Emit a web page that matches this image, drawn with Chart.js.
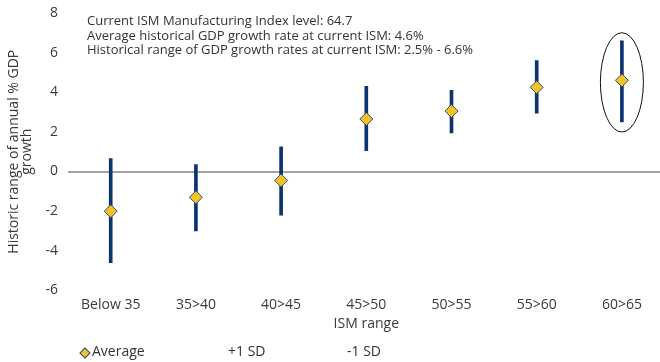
<!DOCTYPE html>
<html>
<head>
<meta charset="utf-8">
<script src="https://cdn.jsdelivr.net/npm/chart.js@4.4.1/dist/chart.umd.min.js"></script>
<style>
  html, body { margin: 0; padding: 0; background: #fff; overflow: hidden; }
  #wrap { position: relative; width: 660px; height: 362px; overflow: hidden; }
  #chart { position: absolute; left: 0; top: 0; width: 672px; height: 362px; }
  .note { position: absolute; left: 87px; top: 13px; font: 13px "Open Sans", sans-serif; color: #333; line-height: 14.5px; white-space: nowrap; }
  .legend { position: absolute; top: 341px; left: 0; font: 14px "Open Sans", sans-serif; color: #333; }
  .legend span { position: absolute; white-space: nowrap; }
  .diamond { width: 6px; height: 6px; background: #f5c125; border: 1px solid #2a4f86; transform: rotate(45deg); display: inline-block; }
</style>
</head>
<body>
<div id="wrap">
  <canvas id="chart" width="672" height="362"></canvas>
  <div class="note">Current ISM Manufacturing Index level: 64.7<br>Average historical GDP growth rate at current ISM: 4.6%<br>Historical range of GDP growth rates at current ISM: 2.5% - 6.6%</div>
  <div class="legend">
    <span style="left:81px;top:1px"><i class="diamond"></i></span>
    <span style="left:92px">Average</span>
    <span style="left:228px">+1 SD</span>
    <span style="left:347px">-1 SD</span>
  </div>
</div>
<script>
// ISM manufacturing ranges and the GDP growth seen in each
const categories = ['Below 35', '35>40', '40>45', '45>50', '50>55', '55>60', '60>65'];
const average = [-2.0, -1.3, -0.45, 2.65, 3.05, 4.25, 4.6];
const plusOneSD = [0.65, 0.35, 1.25, 4.3, 4.1, 5.6, 6.6];
const minusOneSD = [-4.6, -3.0, -2.2, 1.05, 1.95, 2.95, 2.5];
const yTicks = [-6, -4, -2, 0, 2, 4, 6, 8];
const highlightIndex = 6; // current ISM range

const navy = '#0b336f';
const gold = '#f5c125';
const textColor = '#3a3a3a';
const font = { family: 'Open Sans', size: 14 };

// Ellipse around the current ISM range
const highlightPlugin = {
  id: 'highlight',
  afterDatasetsDraw(chart) {
    const { ctx, scales: { x, y } } = chart;
    const cx = x.getPixelForValue(highlightIndex);
    const top = y.getPixelForValue(plusOneSD[highlightIndex]) - 8;
    const bottom = y.getPixelForValue(minusOneSD[highlightIndex]) + 10;
    ctx.save();
    ctx.beginPath();
    ctx.ellipse(cx, (top + bottom) / 2, 21.5, (bottom - top) / 2, 0, 0, Math.PI * 2);
    ctx.strokeStyle = '#111';
    ctx.lineWidth = 1;
    ctx.stroke();
    ctx.restore();
  }
};

new Chart(document.getElementById('chart'), {
  data: {
    labels: categories,
    datasets: [
      {
        type: 'line',
        label: 'Average',
        data: average,
        showLine: false,
        pointStyle: 'rectRot',
        pointRadius: 6.5,
        pointBackgroundColor: gold,
        pointBorderColor: '#2a4f86',
        pointBorderWidth: 1,
        order: 0
      },
      {
        type: 'bar',
        label: 'range',
        data: minusOneSD.map((lo, i) => [lo, plusOneSD[i]]),
        backgroundColor: navy,
        barThickness: 3,
        order: 2
      },
      {
        type: 'line',
        label: '+1 SD',
        data: plusOneSD,
        showLine: false,
        pointRadius: 0,
        order: 1
      },
      {
        type: 'line',
        label: '-1 SD',
        data: minusOneSD,
        showLine: false,
        pointRadius: 0,
        order: 1
      }
    ]
  },
  options: {
    responsive: false,
    animation: false,
    layout: { padding: { top: 13, bottom: 30, left: 7, right: 2 } },
    plugins: {
      legend: { display: false },
      tooltip: { enabled: false }
    },
    scales: {
      x: {
        offset: true,
        afterFit(scale) { scale.paddingLeft = 0; scale.paddingRight = 0; },
        grid: { display: false, drawTicks: false },
        border: { display: false },
        ticks: { color: textColor, font, padding: 6, maxRotation: 0 },
        title: { display: true, text: 'ISM range', color: textColor, font, padding: { top: -4, bottom: 0 } }
      },
      y: {
        min: -6,
        max: 8,
        afterBuildTicks(scale) { scale.ticks = yTicks.map(v => ({ value: v })); },
        afterFit(scale) { scale.paddingTop = 0; scale.paddingBottom = 0; },
        grid: {
          drawTicks: false,
          color: ctx => (ctx.tick && ctx.tick.value === 0 ? '#a3a3a3' : 'rgba(0,0,0,0)'),
          lineWidth: 2
        },
        border: { display: false },
        ticks: { color: textColor, font, padding: 10 },
        title: {
          display: true,
          text: ['Historic range of annual % GDP', 'growth'],
          color: textColor,
          font: { family: 'Open Sans', size: 14, lineHeight: 0.95 },
          padding: { top: 0, bottom: 2 }
        }
      }
    }
  },
  plugins: [highlightPlugin]
});
</script>
</body>
</html>
